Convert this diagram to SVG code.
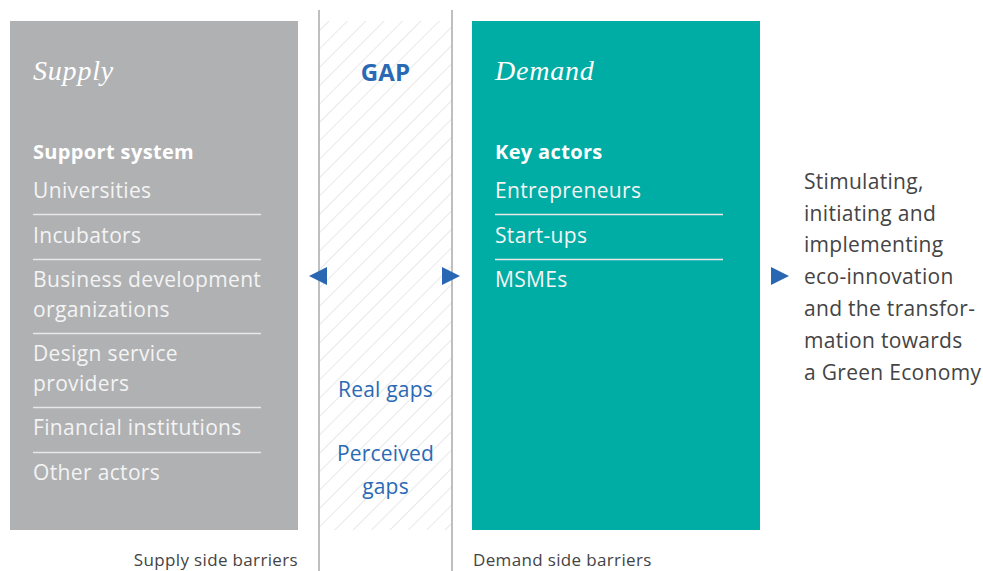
<svg xmlns="http://www.w3.org/2000/svg" width="983" height="571" viewBox="0 0 983 571">
<defs>
<pattern id="hatch" patternUnits="userSpaceOnUse" width="13" height="13" patternTransform="rotate(45)">
<line x1="0" y1="0" x2="0" y2="13" stroke="#dcdcdc" stroke-width="1.3"/>
</pattern>
<style>
.title{font-family:"Liberation Serif",serif;font-style:italic;font-size:28px;letter-spacing:0.8px;fill:#fff}
.head{font-family:"Open Sans","Liberation Sans",sans-serif;font-weight:bold;font-size:20px;letter-spacing:0.35px;fill:#fff}
.item{font-family:"Open Sans","Liberation Sans",sans-serif;font-size:21px;letter-spacing:0.35px;fill:#f4f4f4}
.sep{stroke:#e8e8e8;stroke-width:1.5}
.blue{font-family:"Open Sans","Liberation Sans",sans-serif;font-size:21px;letter-spacing:0.2px;fill:#2a6ab5}
.out{font-family:"Open Sans","Liberation Sans",sans-serif;font-size:21px;letter-spacing:0.3px;fill:#444}
.foot{font-family:"Open Sans","Liberation Sans",sans-serif;font-size:17px;letter-spacing:0.35px;fill:#444}
.arr{fill:#2a67b3}
</style>
</defs>
<rect width="983" height="571" fill="#fff"/>
<g id="gap">
<rect x="319" y="21" width="133" height="509" fill="url(#hatch)"/>
<line x1="319" y1="10" x2="319" y2="571" stroke="#aaa" stroke-width="1.5"/>
<line x1="452" y1="10" x2="452" y2="571" stroke="#aaa" stroke-width="1.5"/>
<text x="385.5" y="81" text-anchor="middle" class="blue" style="font-weight:bold;font-size:24px">GAP</text>
<text x="385.5" y="397" text-anchor="middle" class="blue">Real gaps</text>
<text x="385.5" y="461" text-anchor="middle" class="blue">Perceived</text>
<text x="385.5" y="494" text-anchor="middle" class="blue">gaps</text>
</g>
<g id="supply">
<rect x="10" y="21" width="288" height="509" fill="#b0b1b3"/>
<text x="33" y="80" class="title">Supply</text>
<text x="33" y="159" class="head">Support system</text>
<text x="33" y="198" class="item">Universities</text>
<line x1="33" y1="214.5" x2="261" y2="214.5" class="sep"/>
<text x="33" y="243" class="item">Incubators</text>
<line x1="33" y1="259.5" x2="261" y2="259.5" class="sep"/>
<text x="33" y="287" class="item">Business development</text>
<text x="33" y="317" class="item">organizations</text>
<line x1="33" y1="333.5" x2="261" y2="333.5" class="sep"/>
<text x="33" y="361" class="item">Design service</text>
<text x="33" y="391" class="item">providers</text>
<line x1="33" y1="407.5" x2="261" y2="407.5" class="sep"/>
<text x="33" y="435" class="item">Financial institutions</text>
<line x1="33" y1="452.5" x2="261" y2="452.5" class="sep"/>
<text x="33" y="480" class="item">Other actors</text>
</g>
<g id="demand">
<rect x="472" y="21" width="288" height="509" fill="#00ada5"/>
<text x="495" y="80" class="title">Demand</text>
<text x="495" y="159" class="head">Key actors</text>
<text x="495" y="198" class="item">Entrepreneurs</text>
<line x1="495" y1="214.5" x2="723" y2="214.5" class="sep"/>
<text x="495" y="243" class="item">Start-ups</text>
<line x1="495" y1="259.5" x2="723" y2="259.5" class="sep"/>
<text x="495" y="287" class="item">MSMEs</text>
</g>
<g id="outcome">
<text class="out">
<tspan x="804" y="189">Stimulating,</tspan>
<tspan x="804" y="221">initiating and</tspan>
<tspan x="804" y="252">implementing</tspan>
<tspan x="804" y="284">eco-innovation</tspan>
<tspan x="804" y="316">and the transfor-</tspan>
<tspan x="804" y="348">mation towards</tspan>
<tspan x="804" y="380">a Green Economy</tspan>
</text>
</g>
<g id="labels">
<text x="298" y="566" text-anchor="end" class="foot">Supply side barriers</text>
<text x="473" y="566" class="foot">Demand side barriers</text>
</g>
<g id="connectors">
<polygon class="arr" points="309,276 327,267 327,285"/>
<polygon class="arr" points="460,276 442,267 442,285"/>
<polygon class="arr" points="789,276 771,267 771,285"/>
</g>
</svg>
